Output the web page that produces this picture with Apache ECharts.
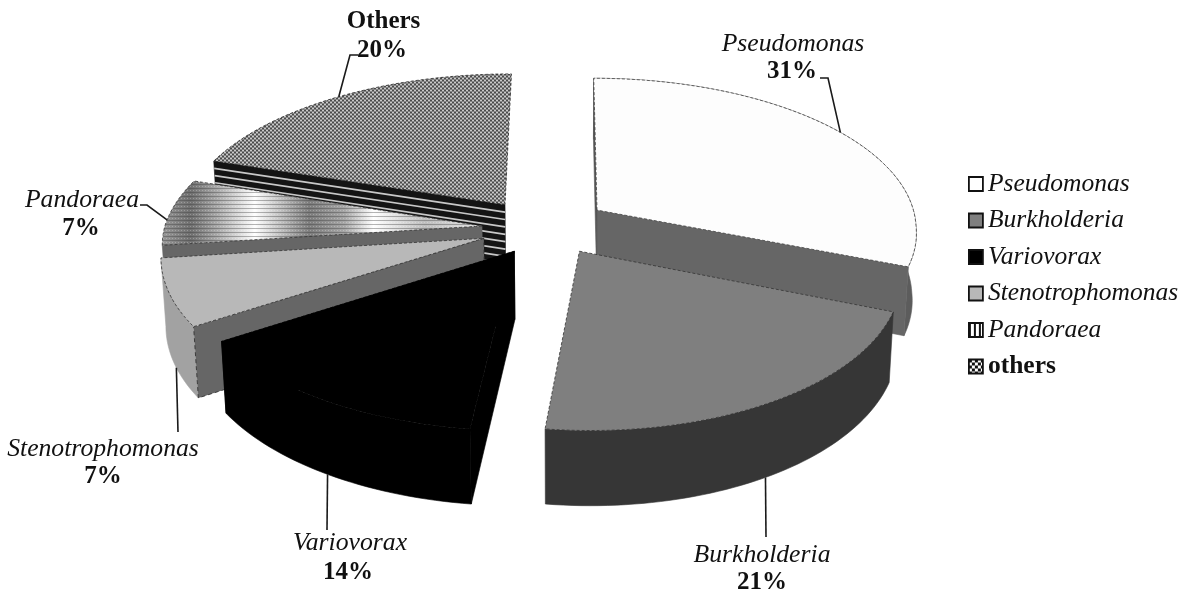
<!DOCTYPE html>
<html>
<head>
<meta charset="utf-8">
<style>html,body{margin:0;padding:0;background:#fff}#chart{width:1185px;height:591px}</style>
<script src="https://cdn.jsdelivr.net/npm/echarts@6/dist/echarts.min.js"></script>
</head>
<body>
<div id="chart"></div>
<script>
// Genus shares, clockwise from twelve o'clock
const sliceNames = ['Pseudomonas', 'Burkholderia', 'Variovorax', 'Stenotrophomonas', 'Pandoraea', 'Others'];
const legendNames = ['Pseudomonas', 'Burkholderia', 'Variovorax', 'Stenotrophomonas', 'Pandoraea', 'others'];
const sliceValues = [31, 21, 14, 7, 7, 20];

// Back-to-front painting order of the slices
const paintOrder = [5, 4, 3, 2, 0, 1];

// Perspective camera for the tilted pie
const cam = { vx: 566, vy: 225, depth: 151, persp: 0.12, drop: 0.012, height: 68, shear: 8, radius: 325 };

// Explosion offset (sideways px, depth in radii) and horizontal radius scale per slice
const explode = [[31.4, 0.10], [11.8, -0.17], [-52, -0.17], [-82, -0.087], [-84, -0.007], [-62, 0.137]];
const radiusScale = [0.985, 0.96, 0.98, 0.975, 0.975, 1];

// Leader lines: rim position within the slice, rim level, then the elbow points
const leaders = [
  { at: 0.50, z: 0, via: [[828, 78], [820, 78]] },
  { at: 0.505, z: 1, via: [[766, 537]] },
  { at: 0.49, z: 1, via: [[327, 530]] },
  { at: 0.43, z: 1, via: [[178, 432]] },
  { at: 0.38, z: 0, via: [[147, 205], [140, 205]] },
  { at: 0.50, z: 0, via: [[350, 55], [358, 55]] }
];
const labelPos = [[793, 44, 792, 72], [762, 555, 762, 583], [350, 543, 348, 573], [103, 449, 103, 477], [82, 200, 81, 229], [383.5, 22, 382, 51]];
const labelFont = '"Liberation Serif", "Times New Roman", serif';

function tile(w, h, draw) {
  const c = document.createElement('canvas');
  c.width = w; c.height = h;
  draw(c.getContext('2d'));
  return { image: c, repeat: 'repeat' };
}
// Woven dot texture on the "Others" slice
const dotFill = tile(4, 4, g => {
  g.fillStyle = '#858585'; g.fillRect(0, 0, 4, 4);
  g.fillStyle = '#cacaca'; g.fillRect(0, 0, 2, 1); g.fillRect(2, 2, 2, 1);
  g.fillStyle = '#4a4a4a'; g.fillRect(2, 0, 2, 1); g.fillRect(0, 2, 2, 1);
});
// Fine ruling laid over the shaded "Pandoraea" slice
const ruleFill = tile(3, 4, g => {
  g.clearRect(0, 0, 3, 4);
  g.fillStyle = 'rgba(60,60,60,0.38)'; g.fillRect(0, 0, 3, 1);
  g.fillStyle = 'rgba(255,255,255,0.25)'; g.fillRect(1, 2, 1, 1);
});
const barIcon = tile(5, 2, g => {
  g.fillStyle = '#fff'; g.fillRect(0, 0, 5, 2);
  g.fillStyle = '#111'; g.fillRect(0, 0, 2, 2);
});
const checkIcon = tile(6, 6, g => {
  g.fillStyle = '#fff'; g.fillRect(0, 0, 6, 6);
  g.fillStyle = '#111'; g.fillRect(0, 0, 3, 3); g.fillRect(3, 3, 3, 3);
});
const pandoraeaShade = {
  type: 'linear', x: 0, y: 0, x2: 1, y2: 0,
  colorStops: [
    { offset: 0, color: '#999' }, { offset: 0.09, color: '#6f6f6f' }, { offset: 0.17, color: '#a8a8a8' },
    { offset: 0.29, color: '#ffffff' }, { offset: 0.46, color: '#7c7c7c' }, { offset: 0.57, color: '#a6a6a6' },
    { offset: 0.66, color: '#ffffff' }, { offset: 0.82, color: '#bdbdbd' }, { offset: 1, color: '#e6e6e6' }
  ]
};

// Face colours per slice; startWall and endWall fill the two cut sides that face the viewer
const faces = [
  { top: '#fdfdfd', startWall: '#555555', endWall: '#666666', rim: '#5c5c5c', edge: '#444' },
  { top: '#7f7f7f', rim: '#363636', edge: '#333' },
  { top: '#000000', startWall: '#000000', endWall: '#000000', rim: '#000000', edge: '#000' },
  { top: '#b8b8b8', startWall: '#666666', rim: '#a2a2a2', edge: '#333', wallEdge: '#333' },
  { top: pandoraeaShade, startWall: '#666666', edge: '#333', over: ruleFill },
  { top: dotFill, startWall: '#141414', edge: '#222', ruled: 9 }
];

// Start and end angle of every slice, in radians clockwise from north
const total = sliceValues.reduce((a, b) => a + b, 0);
const spans = [];
sliceValues.reduce((sum, v) => {
  spans.push([sum / total * 2 * Math.PI, (sum + v) / total * 2 * Math.PI]);
  return sum + v;
}, 0);

function project(X, Y, z) {
  const s = 1 / (1 + cam.persp * Y + cam.drop * z);
  const x = cam.vx + (X + cam.shear * Math.max(-Y, 0)) * s;
  const y = cam.vy - (cam.depth * Y - cam.height * z) * s;
  return [x, y];
}
function rimPoint(i, t, z) {
  const [ex, ey] = explode[i];
  return project(ex + cam.radius * radiusScale[i] * Math.sin(t), ey + Math.cos(t), z);
}
function apexPoint(i, z) {
  return project(explode[i][0], explode[i][1], z);
}
function rimPath(i, z) {
  const [a0, a1] = spans[i];
  const steps = Math.max(8, Math.round((a1 - a0) * 40));
  const pts = [];
  for (let k = 0; k <= steps; k++) pts.push(rimPoint(i, a0 + (a1 - a0) * k / steps, z));
  return pts;
}
function poly(points, fill, extra) {
  return { type: 'polygon', shape: { points }, style: Object.assign({ fill, stroke: typeof fill === 'string' ? fill : null, lineWidth: 0.6 }, extra) };
}
function cutWall(i, t, fill) {
  const edge = faces[i].wallEdge;
  const list = [poly([apexPoint(i, 0), rimPoint(i, t, 0), rimPoint(i, t, 1), apexPoint(i, 1)], fill,
    edge ? { stroke: edge, lineWidth: 0.9, lineDash: [4, 3] } : null)];
  const n = faces[i].ruled;
  if (n) {
    for (let k = 1; k < n; k++) {
      const z = k / n;
      list.push({ type: 'polyline', shape: { points: [apexPoint(i, z), rimPoint(i, t, z)] }, style: { fill: null, stroke: '#c8c8c8', lineWidth: 1.7 } });
    }
  }
  return list;
}

function renderSlice(i) {
  const f = faces[i];
  const [a0, a1] = spans[i];
  const top = rimPath(i, 0);
  const bottom = rimPath(i, 1);
  const children = [];
  if (f.rim) children.push(poly(top.concat(bottom.slice().reverse()), f.rim));
  if (f.endWall) children.push(...cutWall(i, a1, f.endWall));
  if (f.startWall) children.push(...cutWall(i, a0, f.startWall));
  const face = [apexPoint(i, 0)].concat(top);
  children.push(poly(face, f.top, { stroke: f.edge, lineWidth: 0.8, lineDash: [3, 2] }));
  if (f.over) children.push(poly(face, f.over));

  const L = leaders[i];
  const start = rimPoint(i, a0 + (a1 - a0) * L.at, L.z);
  children.push({ type: 'polyline', shape: { points: [start].concat(L.via) }, style: { fill: null, stroke: '#1a1a1a', lineWidth: 1.6 } });

  const [nx, ny, vx, vy] = labelPos[i];
  const nameFont = i === 5 ? 'bold 25px ' : 'italic 25.7px ';
  children.push({ type: 'text', style: { text: sliceNames[i], x: nx, y: ny, fill: '#111', font: nameFont + labelFont, textAlign: 'center', textVerticalAlign: 'middle' } });
  children.push({ type: 'text', style: { text: sliceValues[i] + '%', x: vx, y: vy, fill: '#111', font: 'bold 25px ' + labelFont, textAlign: 'center', textVerticalAlign: 'middle' } });
  return { type: 'group', children };
}

const legendSwatches = ['#ffffff', '#7f7f7f', '#000000', '#b8b8b8', barIcon, checkIcon];

const series = sliceValues.map((v, i) => ({
  type: 'custom',
  name: legendNames[i],
  coordinateSystem: 'none',
  silent: true,
  animation: false,
  z: 2 + paintOrder.indexOf(i),
  data: [v],
  renderItem: () => renderSlice(i)
}));

const chart = echarts.init(document.getElementById('chart'), null, { renderer: 'canvas' });
chart.setOption({
  backgroundColor: '#ffffff',
  animation: false,
  legend: {
    orient: 'vertical',
    left: 963,
    top: 166,
    itemWidth: 14,
    itemHeight: 14,
    itemGap: 10.5,
    selectedMode: false,
    icon: 'rect',
    data: legendNames.map((name, i) => ({
      name,
      itemStyle: { color: legendSwatches[i], borderColor: '#111', borderWidth: 1.8 },
      textStyle: {
        fontFamily: labelFont, fontSize: 25.5, color: '#111', padding: [0, 0, 0, 0],
        fontStyle: i === 5 ? 'normal' : 'italic', fontWeight: i === 5 ? 'bold' : 'normal'
      }
    }))
  },
  series
});
</script>
</body>
</html>
